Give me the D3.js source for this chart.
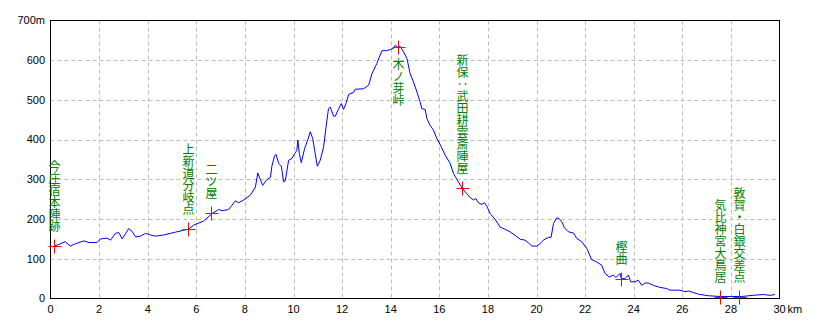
<!DOCTYPE html>
<html>
<head>
<meta charset="utf-8">
<script src="https://cdn.jsdelivr.net/npm/d3@7"></script>
<style>
  body { margin: 0; background: #fff; }
  svg { display: block; }
</style>
</head>
<body>
<div id="chart"></div>
<script>
// distance (km) and elevation (m)
const km = [0.14, 0.34, 0.60, 0.82, 1.03, 1.37, 1.58, 1.92, 2.06, 2.33, 2.47, 2.67, 2.81, 2.95,
  3.22, 3.36, 3.50, 3.70, 3.91, 4.11, 4.32, 4.66, 5.14, 5.48, 5.66, 5.90, 6.30, 6.65, 6.92,
  7.06, 7.33, 7.47, 7.61, 7.74, 7.95, 8.22, 8.43, 8.53, 8.73, 8.91, 9.05, 9.11, 9.22, 9.28,
  9.39, 9.50, 9.59, 9.66, 9.80, 9.94, 10.05, 10.14, 10.18, 10.24, 10.32, 10.46, 10.59, 10.69,
  10.79, 10.87, 10.98, 11.10, 11.24, 11.34, 11.44, 11.51, 11.65, 11.72, 11.86, 11.97, 12.06,
  12.16, 12.27, 12.47, 12.54, 12.88, 13.09, 13.23, 13.43, 13.64, 13.84, 13.98, 14.12, 14.19,
  14.30, 14.39, 14.53, 14.67, 14.80, 14.94, 15.08, 15.21, 15.28, 15.42, 15.49, 15.62, 15.76,
  15.90, 16.08, 16.24, 16.45, 16.58, 16.79, 16.95, 17.13, 17.27, 17.41, 17.50, 17.61, 17.75,
  17.86, 17.96, 18.09, 18.30, 18.50, 18.71, 18.91, 19.12, 19.33, 19.53, 19.67, 19.81, 20.01,
  20.15, 20.28, 20.49, 20.60, 20.70, 20.83, 20.93, 21.04, 21.15, 21.31, 21.52, 21.66, 21.86,
  22.07, 22.27, 22.48, 22.68, 22.82, 23.00, 23.16, 23.27, 23.44, 23.49, 23.64, 23.78, 23.88,
  24.05, 24.19, 24.33, 24.47, 24.60, 24.81, 25.08, 25.36, 25.49, 25.90, 26.11, 26.25, 26.45,
  26.66, 27.07, 27.55, 28.03, 28.44, 28.92, 29.33, 29.61, 29.81];
const elev = [132, 136, 143, 132, 138, 145, 141, 141, 150, 152, 147, 164, 166, 150,
  176, 169, 155, 157, 164, 160, 157, 160, 167, 172, 174, 185, 195, 214, 224,
  221, 224, 235, 246, 241, 248, 260, 280, 316, 285, 300, 305, 333, 359, 363,
  340, 333, 294, 296, 348, 353, 365, 373, 399, 365, 342, 378, 400, 420,
  403, 373, 333, 348, 382, 432, 478, 482, 459, 459, 478, 491, 476,
  491, 514, 519, 527, 528, 537, 566, 592, 624, 624, 627, 630, 638,
  632, 635, 621, 604, 566, 545, 520, 495, 478, 476, 453, 436, 424,
  403, 382, 361, 340, 315, 293, 277, 264, 254, 248, 252, 241, 237,
  241, 232, 214, 199, 180, 174, 168, 159, 149, 147, 140, 132, 132,
  138, 147, 154, 154, 189, 203, 201, 193, 178, 168, 165, 151, 143,
  126, 98, 92, 84, 63, 54, 59, 53, 63, 50, 50, 59, 42,
  42, 46, 33, 39, 39, 33, 28, 25, 21, 21, 17, 19, 15,
  11, 7, 5, 5, 5, 8, 10, 8, 10];

// named points along the route
const pointNames = ["今庄宿本陣跡", "上新道分岐点", "二ツ屋", "木ノ芽峠", "新保：武田耕雲斎陣屋",
  "樫曲", "気比神宮大鳥居", "敦賀・白銀交差点"];
const pointKm = [0.14, 5.66, 6.62, 14.30, 16.95, 23.49, 27.55, 28.34];
const pointElev = [132, 174, 216, 634, 277, 50, 5, 5];
const labelBelow = [false, false, false, true, false, false, false, false];

const xTicks = d3.range(0, 31, 2);
const yTicks = d3.range(0, 701, 100);

const width = 820, height = 328;
const margin = {top: 20.5, right: 40.5, bottom: 29.5, left: 50.5};

const svg = d3.select("#chart").append("svg")
    .attr("width", width)
    .attr("height", height);

const x = d3.scaleLinear().domain([0, 30]).range([margin.left, width - margin.right]);
const y = d3.scaleLinear().domain([0, 700]).range([height - margin.bottom, margin.top]);

// grid
svg.append("g")
    .selectAll("line")
    .data(yTicks.filter(d => d > 0 && d < 700))
    .enter().append("line")
    .attr("x1", x(0)).attr("x2", x(30))
    .attr("y1", d => Math.round(y(d)) + 0.5).attr("y2", d => Math.round(y(d)) + 0.5)
    .attr("stroke", "#bdbdbd")
    .attr("stroke-dasharray", "4,3");

svg.append("g")
    .selectAll("line")
    .data(xTicks.filter(d => d > 0 && d < 30))
    .enter().append("line")
    .attr("x1", d => Math.round(x(d)) + 0.5).attr("x2", d => Math.round(x(d)) + 0.5)
    .attr("y1", y(700)).attr("y2", y(0))
    .attr("stroke", "#bdbdbd")
    .attr("stroke-dasharray", "4,3");

// frame
svg.append("rect")
    .attr("x", x(0)).attr("y", y(700))
    .attr("width", x(30) - x(0)).attr("height", y(0) - y(700))
    .attr("fill", "none")
    .attr("stroke", "#000");

// axis labels
svg.append("g")
    .selectAll("text")
    .data(yTicks)
    .enter().append("text")
    .attr("x", 45)
    .attr("y", d => y(d))
    .attr("dy", "0.35em")
    .attr("text-anchor", "end")
    .style("font-family", "'Liberation Sans', Arial, sans-serif")
    .style("font-size", "11px")
    .text(d => d === 700 ? d + "m" : d);

svg.append("g")
    .selectAll("text")
    .data(xTicks)
    .enter().append("text")
    .attr("x", d => x(d))
    .attr("y", 313)
    .attr("text-anchor", "middle")
    .style("font-family", "'Liberation Sans', Arial, sans-serif")
    .style("font-size", "11px")
    .text(d => d);

svg.append("text")
    .attr("x", x(30) + 8)
    .attr("y", 313)
    .style("font-family", "'Liberation Sans', Arial, sans-serif")
    .style("font-size", "11px")
    .text("km");

// profile
const profile = km.map((d, i) => [d, elev[i]]);
svg.append("path")
    .datum(profile)
    .attr("fill", "none")
    .attr("stroke", "#0000ff")
    .attr("stroke-width", 1)
    .attr("d", d3.line().x(d => x(d[0])).y(d => y(d[1])));

// markers
const points = pointNames.map((name, i) => ({name, km: pointKm[i], elev: pointElev[i], below: labelBelow[i]}));

const marks = svg.append("g")
    .selectAll("g")
    .data(points)
    .enter().append("g")
    .attr("transform", d => `translate(${Math.round(x(d.km)) + 0.5}, ${Math.round(y(d.elev)) + 0.5})`);

marks.append("line")
    .attr("x1", -6).attr("x2", 7).attr("y1", 0).attr("y2", 0)
    .attr("stroke", "#ff0000");
marks.append("line")
    .attr("x1", 0).attr("x2", 0).attr("y1", -7).attr("y2", 7)
    .attr("stroke", "#ff0000");

marks.append("text")
    .attr("x", 0)
    .attr("y", d => d.below ? 11 : -14)
    .attr("text-anchor", d => d.below ? "start" : "end")
    .style("writing-mode", "vertical-rl")
    .style("font-family", "'Noto Sans CJK JP', sans-serif")
    .style("font-size", "12px")
    .style("fill", "#008000")
    .text(d => d.name);
</script>
</body>
</html>
